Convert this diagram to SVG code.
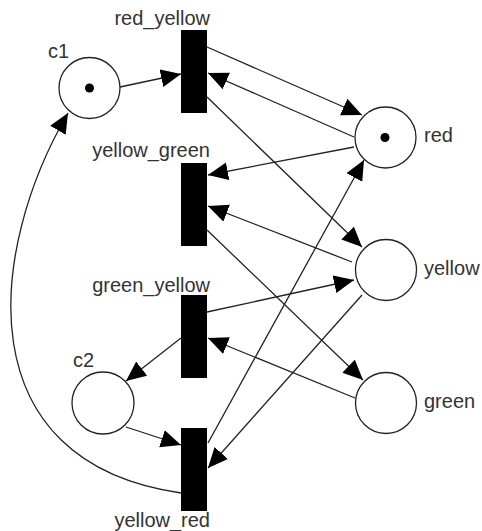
<svg xmlns="http://www.w3.org/2000/svg" width="482" height="531" viewBox="0 0 482 531">
<style>
.place{fill:#fff;stroke:#222;stroke-width:1.3}
.token{fill:#000}
.trans{fill:#000}
.arc{fill:none;stroke:#222;stroke-width:1.3;marker-end:url(#ah)}
text{font-family:"Liberation Sans",Arial,sans-serif;font-size:20px;fill:#333}
</style>
<defs>
<marker id="ah" markerUnits="userSpaceOnUse" markerWidth="21" markerHeight="19" refX="20" refY="9" orient="auto" viewBox="0 0 21 19">
<path d="M0,0 L20,9 L0,18 z" fill="#000"/>
</marker>
</defs>
<rect width="482" height="531" fill="#fff"/>
<g id="connectors">
<path class="arc" d="M120,87 L181,74"/>
<path class="arc" d="M207,47 L362,115"/>
<path class="arc" d="M354,137 L208,73"/>
<path class="arc" d="M207,97 L362,247"/>
<path class="arc" d="M354,147 L208,175"/>
<path class="arc" d="M352,262 L208,206"/>
<path class="arc" d="M207,230 L363,380"/>
<path class="arc" d="M207,312 L354,280"/>
<path class="arc" d="M355,398 L208,338"/>
<path class="arc" d="M181,338 L126,381"/>
<path class="arc" d="M126,427 L181,445"/>
<path class="arc" d="M362,295 L208,468"/>
<path class="arc" d="M208,443 L364,160"/>
<path class="arc" d="M181,493 C-35,462 -12,250 68,113"/>
</g>
<g id="c1"><circle class="place" cx="89.5" cy="88" r="30.5"/><circle class="token" cx="89.5" cy="88" r="4.5"/><text x="48" y="58">c1</text></g>
<g id="red"><circle class="place" cx="385.5" cy="137.5" r="30.5"/><circle class="token" cx="385" cy="137.5" r="4.5"/><text x="424" y="142">red</text></g>
<g id="yellow"><circle class="place" cx="386" cy="270" r="30.5"/><text x="424" y="275">yellow</text></g>
<g id="green"><circle class="place" cx="386" cy="403" r="30.5"/><text x="424" y="408">green</text></g>
<g id="c2"><circle class="place" cx="103" cy="403" r="31"/><text x="73" y="367">c2</text></g>
<g id="red_yellow"><rect class="trans" x="181" y="30" width="26" height="83"/><text x="210" y="25" text-anchor="end">red_yellow</text></g>
<g id="yellow_green"><rect class="trans" x="181" y="163" width="26" height="83"/><text x="210" y="157" text-anchor="end">yellow_green</text></g>
<g id="green_yellow"><rect class="trans" x="181" y="295" width="26" height="83"/><text x="210" y="292" text-anchor="end">green_yellow</text></g>
<g id="yellow_red"><rect class="trans" x="181" y="428" width="26" height="83"/><text x="210" y="527" text-anchor="end">yellow_red</text></g>
</svg>
